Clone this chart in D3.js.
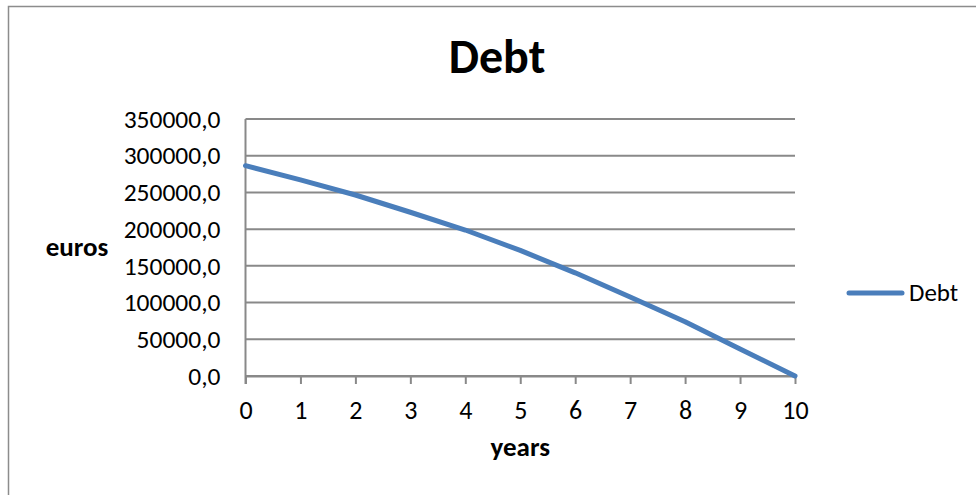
<!DOCTYPE html>
<html>
<head>
<meta charset="utf-8">
<script src="https://cdn.jsdelivr.net/npm/d3@7"></script>
<style>
  html, body { margin: 0; padding: 0; background: #fff; }
  svg { display: block; }
  text { font-family: Carlito, Lato, "Open Sans", sans-serif; fill: #000; }
</style>
</head>
<body>
<svg id="chart" width="976" height="495"></svg>
<script>
// Remaining debt at the end of each year
const years = [0, 1, 2, 3, 4, 5, 6, 7, 8, 9, 10];
const debt = [286400, 267000, 246500, 223000, 198800, 171000, 140500, 107500, 74000, 36800, 0];
const yTicks = [0, 50000, 100000, 150000, 200000, 250000, 300000, 350000];
const seriesName = "Debt";

const svg = d3.select("#chart");
const W = 976, H = 495;
const plot = { left: 245.5, right: 795, top: 119, bottom: 376 };
const gridColor = "#898989";
const lineColor = "#4a7ebb";

// outer chart frame (runs past the right and bottom edges)
svg.append("rect")
  .attr("x", 8.5).attr("y", 6.5)
  .attr("width", W + 20).attr("height", H + 20)
  .attr("fill", "#fff")
  .attr("stroke", "#8c8c8c").attr("stroke-width", 1.5);

const x = d3.scaleLinear().domain([0, 10]).range([plot.left, plot.right]);
const y = d3.scaleLinear().domain([0, 350000]).range([plot.bottom, plot.top]);

const fmt = v => d3.format(".1f")(v).replace(".", ",");

// horizontal gridlines
svg.append("g")
  .selectAll("line")
  .data(yTicks)
  .join("line")
  .attr("x1", plot.left).attr("x2", plot.right)
  .attr("y1", d => y(d)).attr("y2", d => y(d))
  .attr("stroke", gridColor).attr("stroke-width", 2);

// y axis with tick labels
const yAxis = svg.append("g")
  .attr("transform", `translate(${plot.left},0)`)
  .call(d3.axisLeft(y).tickValues(yTicks).tickFormat(fmt).tickSize(0).tickPadding(25));
yAxis.select(".domain").remove();
yAxis.selectAll("text")
  .attr("font-size", 25.5)
  .attr("font-family", "Carlito, Lato, sans-serif");
svg.append("line")
  .attr("x1", plot.left).attr("x2", plot.left)
  .attr("y1", plot.top).attr("y2", plot.bottom + 8)
  .attr("stroke", gridColor).attr("stroke-width", 2);

// x axis with ticks on each year
const xAxis = svg.append("g")
  .attr("transform", `translate(0,${plot.bottom})`)
  .call(d3.axisBottom(x).tickValues(years).tickFormat(d3.format("d")).tickSize(8).tickPadding(20).tickSizeOuter(0));
xAxis.select(".domain").attr("stroke", gridColor).attr("stroke-width", 2);
xAxis.selectAll(".tick line").attr("stroke", gridColor).attr("stroke-width", 2);
xAxis.selectAll("text")
  .attr("font-size", 26)
  .attr("font-family", "Carlito, Lato, sans-serif")
  .attr("dy", "15px");

// debt line
const line = d3.line().x((d, i) => x(years[i])).y(d => y(d));
svg.append("path")
  .datum(debt)
  .attr("d", line)
  .attr("fill", "none")
  .attr("stroke", lineColor)
  .attr("stroke-width", 5)
  .attr("stroke-linejoin", "round")
  .attr("stroke-linecap", "round");

// title and axis titles
svg.append("text")
  .attr("x", 497).attr("y", 73)
  .attr("text-anchor", "middle")
  .attr("font-size", 48).attr("font-weight", "bold")
  .text("Debt");

svg.append("text")
  .attr("x", (plot.left + plot.right) / 2).attr("y", 456)
  .attr("text-anchor", "middle")
  .attr("font-size", 27).attr("font-weight", "bold")
  .text("years");

svg.append("text")
  .attr("x", 77).attr("y", 256)
  .attr("text-anchor", "middle")
  .attr("font-size", 27).attr("font-weight", "bold")
  .text("euros");

// legend
const legend = svg.append("g");
legend.append("line")
  .attr("x1", 849).attr("x2", 902)
  .attr("y1", 293).attr("y2", 293)
  .attr("stroke", lineColor).attr("stroke-width", 5)
  .attr("stroke-linecap", "round");
legend.append("text")
  .attr("x", 909).attr("y", 301)
  .attr("font-size", 25)
  .text(seriesName);
</script>
</body>
</html>
